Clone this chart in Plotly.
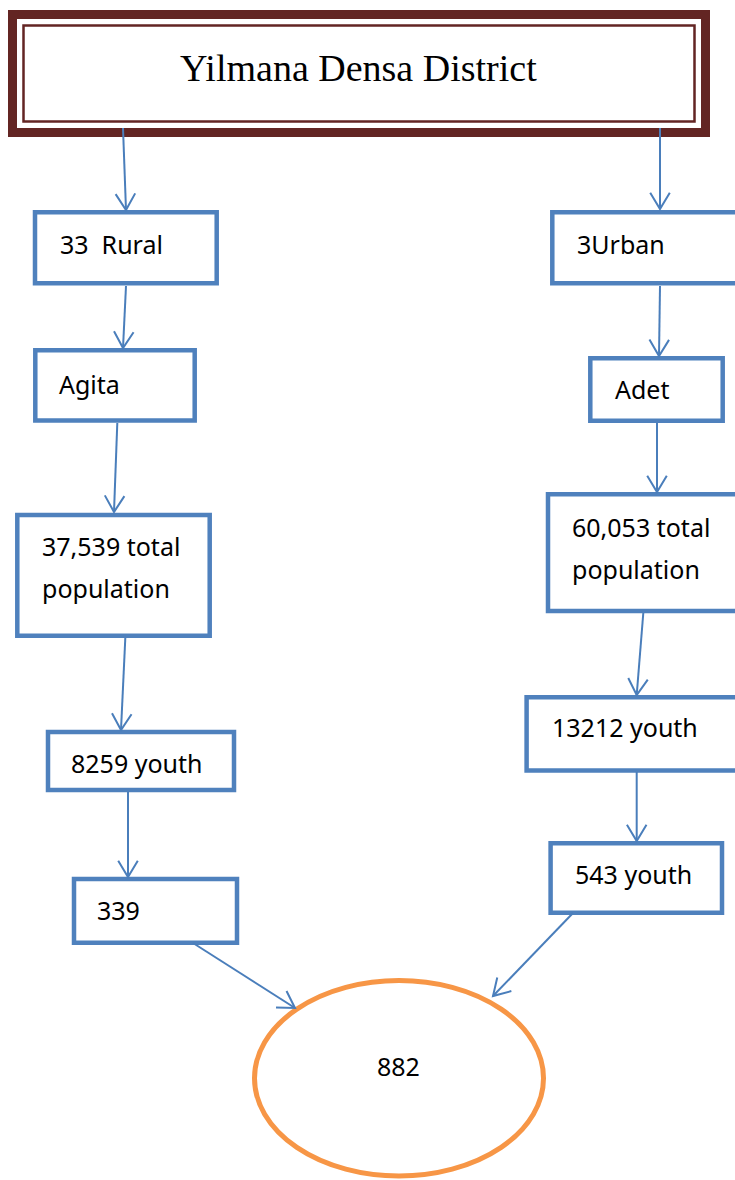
import plotly.graph_objects as go
import numpy as np

# ---------------- content ----------------
title_text = "Yilmana Densa District"
rural_labels = [["33\u00a0 Rural"], ["Agita"], ["37,539 total", "population"], ["8259 youth"], ["339"]]
urban_labels = [["3Urban"], ["Adet"], ["60,053 total", "population"], ["13212 youth"], ["543 youth"]]
total_label = "882"

# ---------------- layout geometry (pixels, y grows downward) ----------------
W, H = 735, 1180
rural_boxes = [(35, 212.3, 216.7, 283.3), (35.3, 350.3, 194.7, 420.4), (17.3, 515, 209.7, 635.7),
               (48, 732, 234, 790), (74, 879, 237, 942.7)]
urban_boxes = [(552.3, 212.3, 740, 283.3), (590.3, 358.3, 722.7, 420.7), (548, 494.3, 740, 611),
               (526.6, 697.3, 740, 770.4), (550.6, 843.3, 722, 912.7)]
rural_text_pos = [(57.7, 244), (57, 384), (40, 546), (69, 763), (95, 910)]
urban_text_pos = [(575, 244), (613, 389), (570, 527), (550, 727), (573, 874)]
line_gap = 42
arrows = [((123, 128), (126, 210)), ((660, 128), (660, 209)),
          ((126, 286), (123, 348)), ((660, 286), (659, 356)),
          ((117.3, 423), (114, 512)), ((657, 423), (657, 492)),
          ((125.3, 638), (121, 730)), ((643.3, 613), (636.7, 695)),
          ((128, 792), (128, 877)), ((636.7, 772), (636.7, 841)),
          ((193, 943), (295, 1008)), ((573, 913), (493, 996))]
ellipse_box = (254.5, 980.5, 543.5, 1176)
title_pos = (358, 68)

BLUE = "#4F81BD"
ARROW = "#4A7EBB"
MAROON = "#632523"
ORANGE = "#F79646"

fig = go.Figure()
shapes = []
# title frame
shapes.append(dict(type="rect", x0=12.5, y0=14.5, x1=705.5, y1=132.5,
                   line=dict(color=MAROON, width=9), fillcolor="white", layer="below"))
shapes.append(dict(type="rect", x0=23.5, y0=25.5, x1=694.5, y1=121.5,
                   line=dict(color=MAROON, width=2.5), layer="below"))
for b in rural_boxes + urban_boxes:
    shapes.append(dict(type="rect", x0=b[0], y0=b[1], x1=b[2], y1=b[3],
                       line=dict(color=BLUE, width=4.5), fillcolor="white", layer="below"))
shapes.append(dict(type="circle", x0=ellipse_box[0], y0=ellipse_box[1], x1=ellipse_box[2], y1=ellipse_box[3],
                   line=dict(color=ORANGE, width=5), fillcolor="white", layer="below"))

# arrows: shaft plus open V head
head_len, half_ang = 19, np.deg2rad(31)
xs, ys = [], []
for (sx, sy), (tx, ty) in arrows:
    ang = np.arctan2(sy - ty, sx - tx)
    a1, a2 = ang - half_ang, ang + half_ang
    xs += [sx, tx, None, tx + head_len * np.cos(a1), tx, tx + head_len * np.cos(a2), None]
    ys += [sy, ty, None, ty + head_len * np.sin(a1), ty, ty + head_len * np.sin(a2), None]
fig.add_trace(go.Scatter(x=xs, y=ys, mode="lines", line=dict(color=ARROW, width=2),
                         hoverinfo="skip", showlegend=False))

annotations = []
annotations.append(dict(x=title_pos[0], y=title_pos[1], text=title_text, showarrow=False,
                        xanchor="center", yanchor="middle",
                        font=dict(family="Liberation Serif", size=38, color="black")))
for labels, poss in ((rural_labels, rural_text_pos), (urban_labels, urban_text_pos)):
    for lines, (px, py) in zip(labels, poss):
        for i, ln in enumerate(lines):
            annotations.append(dict(x=px, y=py + i * line_gap, text=ln, showarrow=False,
                                    xanchor="left", yanchor="middle",
                                    font=dict(family="Noto Sans", size=25, color="black")))
annotations.append(dict(x=(ellipse_box[0] + ellipse_box[2]) / 2 - 1, y=1066, text=total_label, showarrow=False,
                        xanchor="center", yanchor="middle",
                        font=dict(family="Noto Sans", size=25, color="black")))

fig.update_layout(width=W, height=H, margin=dict(l=0, r=0, t=0, b=0),
                  paper_bgcolor="white", plot_bgcolor="white",
                  shapes=shapes, annotations=annotations,
                  xaxis=dict(range=[0, W], visible=False, fixedrange=True),
                  yaxis=dict(range=[H, 0], visible=False, fixedrange=True))
fig.write_html("out.html", config={"displayModeBar": False},
               post_script="document.body.style.margin='0';document.body.style.overflow='hidden';")
